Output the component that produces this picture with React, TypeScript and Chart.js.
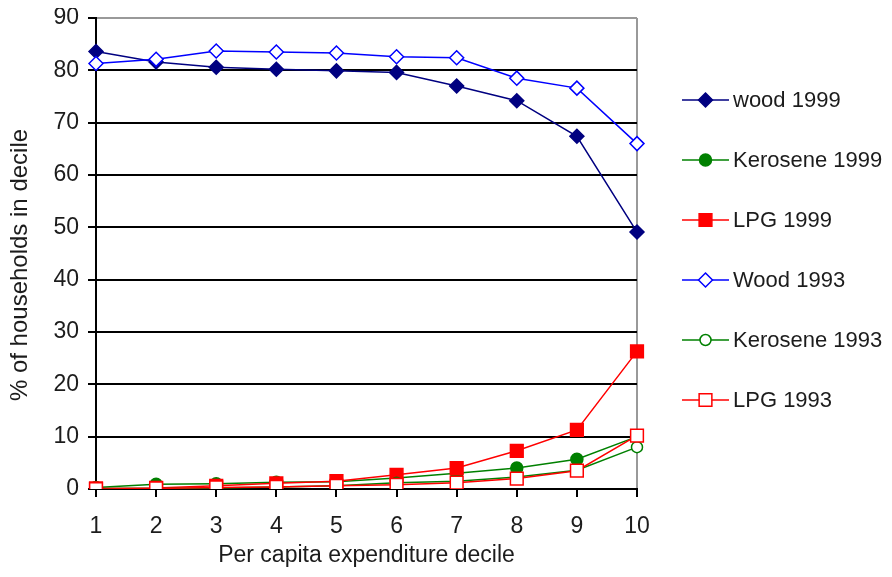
import React, { useEffect, useRef } from "react";
import { Chart, registerables } from "chart.js";

Chart.register(...registerables);

// Per capita expenditure deciles
const deciles = ["1", "2", "3", "4", "5", "6", "7", "8", "9", "10"];
const yTicks = [0, 10, 20, 30, 40, 50, 60, 70, 80, 90];

// Share of households (%) using each fuel, by decile
const wood1999 = [83.6, 81.6, 80.6, 80.2, 79.9, 79.6, 77.0, 74.2, 67.4, 49.1];
const kerosene1999 = [0.3, 0.9, 1.0, 1.3, 1.4, 2.1, 3.0, 4.0, 5.7, 10.0];
const lpg1999 = [0.1, 0.2, 0.6, 1.1, 1.5, 2.7, 4.0, 7.3, 11.3, 26.3];
const wood1993 = [81.3, 82.1, 83.7, 83.5, 83.3, 82.6, 82.4, 78.5, 76.6, 66.0];
const kerosene1993 = [0.1, 0.1, 0.2, 0.4, 0.6, 1.2, 1.5, 2.3, 3.6, 8.0];
const lpg1993 = [0.0, 0.1, 0.3, 0.4, 0.6, 0.8, 1.2, 2.0, 3.5, 10.2];

const yTitle = "% of households in decile";

const FONT = "'Liberation Sans', Arial, sans-serif";
const TEXT = "#1c1c1c";
const NAVY = "#000080";
const GREEN = "#008000";
const RED = "#ff0000";
const BLUE = "#0000ff";

const CANVAS_W = 876;
const CANVAS_H = 561;
const PLOT_BOTTOM = 481;

type Marker = { style: "rectRot" | "rect" | "circle"; radius: number; fill: string; stroke: string };

const markers: Marker[] = [
  { style: "rectRot", radius: 7, fill: NAVY, stroke: NAVY },
  { style: "circle", radius: 6, fill: GREEN, stroke: GREEN },
  { style: "rect", radius: 9, fill: RED, stroke: RED },
  { style: "rectRot", radius: 7, fill: "#ffffff", stroke: BLUE },
  { style: "circle", radius: 5.5, fill: "#ffffff", stroke: GREEN },
  { style: "rect", radius: 9, fill: "#ffffff", stroke: RED },
];

function drawMarker(ctx: CanvasRenderingContext2D, m: Marker, x: number, y: number) {
  ctx.beginPath();
  if (m.style === "circle") {
    ctx.arc(x, y, m.radius, 0, Math.PI * 2);
  } else if (m.style === "rect") {
    const s = m.radius * Math.SQRT1_2;
    ctx.rect(x - s, y - s, 2 * s, 2 * s);
  } else {
    ctx.moveTo(x, y - m.radius);
    ctx.lineTo(x + m.radius, y);
    ctx.lineTo(x, y + m.radius);
    ctx.lineTo(x - m.radius, y);
    ctx.closePath();
  }
  ctx.fillStyle = m.fill;
  ctx.fill();
  ctx.lineWidth = 1.5;
  ctx.strokeStyle = m.stroke;
  ctx.stroke();
}

// Legend on the right (line + marker + label) and the rotated y-axis title
const sideLegend = {
  id: "sideLegend",
  afterDraw(chart: Chart) {
    const ctx = chart.ctx;
    const x0 = 674;
    const x1 = 721;
    const top = 92;
    const step = 60;
    ctx.save();
    chart.data.datasets.forEach((ds: any, i: number) => {
      const y = top + i * step;
      ctx.beginPath();
      ctx.moveTo(x0, y);
      ctx.lineTo(x1, y);
      ctx.strokeStyle = ds.borderColor;
      ctx.lineWidth = 1.5;
      ctx.stroke();
      drawMarker(ctx, markers[i], (x0 + x1) / 2, y);
      ctx.fillStyle = TEXT;
      ctx.font = `22px ${FONT}`;
      ctx.textBaseline = "middle";
      ctx.textAlign = "left";
      ctx.fillText(ds.label, 725, y + 1);
    });

    ctx.translate(12, 257);
    ctx.rotate(-Math.PI / 2);
    ctx.font = `24px ${FONT}`;
    ctx.fillStyle = TEXT;
    ctx.textAlign = "center";
    ctx.textBaseline = "middle";
    ctx.fillText(yTitle, 0, 0);
    ctx.restore();
  },
};

export default function App() {
  const canvasRef = useRef<HTMLCanvasElement | null>(null);

  useEffect(() => {
    if (!canvasRef.current) return;
    const series = [
      { label: "wood 1999", data: wood1999, color: NAVY },
      { label: "Kerosene 1999", data: kerosene1999, color: GREEN },
      { label: "LPG 1999", data: lpg1999, color: RED },
      { label: "Wood 1993", data: wood1993, color: BLUE },
      { label: "Kerosene 1993", data: kerosene1993, color: GREEN },
      { label: "LPG 1993", data: lpg1993, color: RED },
    ];
    const chart = new Chart(canvasRef.current, {
      type: "line",
      data: {
        labels: deciles,
        datasets: series.map((s, i) => ({
          label: s.label,
          data: s.data,
          borderColor: s.color,
          borderWidth: 1.5,
          backgroundColor: markers[i].fill,
          pointBackgroundColor: markers[i].fill,
          pointBorderColor: markers[i].stroke,
          pointBorderWidth: 1.5,
          pointStyle: markers[i].style,
          pointRadius: markers[i].radius,
          pointHoverRadius: markers[i].radius,
          tension: 0,
          fill: false,
          order: series.length - i,
        })),
      },
      options: {
        animation: false,
        responsive: false,
        devicePixelRatio: 1,
        layout: { autoPadding: false, padding: { top: 10, right: 247, bottom: 0, left: 0 } },
        plugins: { legend: { display: false }, tooltip: { enabled: false } },
        scales: {
          x: {
            type: "category",
            offset: false,
            afterFit: (scale: any) => {
              scale.height = CANVAS_H - PLOT_BOTTOM;
              scale.paddingLeft = 0;
              scale.paddingRight = 0;
            },
            border: { color: "#000", width: 2 },
            grid: {
              color: (c: any) => (c.index === deciles.length - 1 ? "#999" : "rgba(0,0,0,0)"),
              lineWidth: 2,
              tickColor: "#000",
              tickLength: 8,
            },
            ticks: {
              color: TEXT,
              font: { family: FONT, size: 23 },
              padding: 16,
              maxRotation: 0,
              autoSkip: false,
            },
            title: {
              display: true,
              text: "Per capita expenditure decile",
              color: TEXT,
              font: { family: FONT, size: 23, lineHeight: 1 },
              padding: { top: 0, bottom: 1.5 },
            },
          },
          y: {
            min: 0,
            max: 90,
            afterFit: (scale: any) => {
              scale.width = 88;
              scale.paddingTop = 0;
              scale.paddingBottom = 0;
            },
            afterBuildTicks: (scale: any) => {
              scale.ticks = yTicks.map((v) => ({ value: v }));
            },
            border: { color: "#000", width: 2 },
            grid: {
              color: (c: any) => (c.tick && c.tick.value === 90 ? "#999" : "#000"),
              lineWidth: 2,
              tickColor: "#000",
              tickLength: 8,
            },
            ticks: {
              color: TEXT,
              font: { family: FONT, size: 23, lineHeight: 1 },
              padding: 9,
            },
            title: { display: false },
          },
        },
      },
      plugins: [sideLegend],
    });
    return () => chart.destroy();
  }, []);

  return (
    <div style={{ width: CANVAS_W, height: CANVAS_H }}>
      <canvas
        ref={canvasRef}
        width={CANVAS_W}
        height={CANVAS_H}
        style={{ display: "block", width: CANVAS_W, height: CANVAS_H }}
      />
    </div>
  );
}
